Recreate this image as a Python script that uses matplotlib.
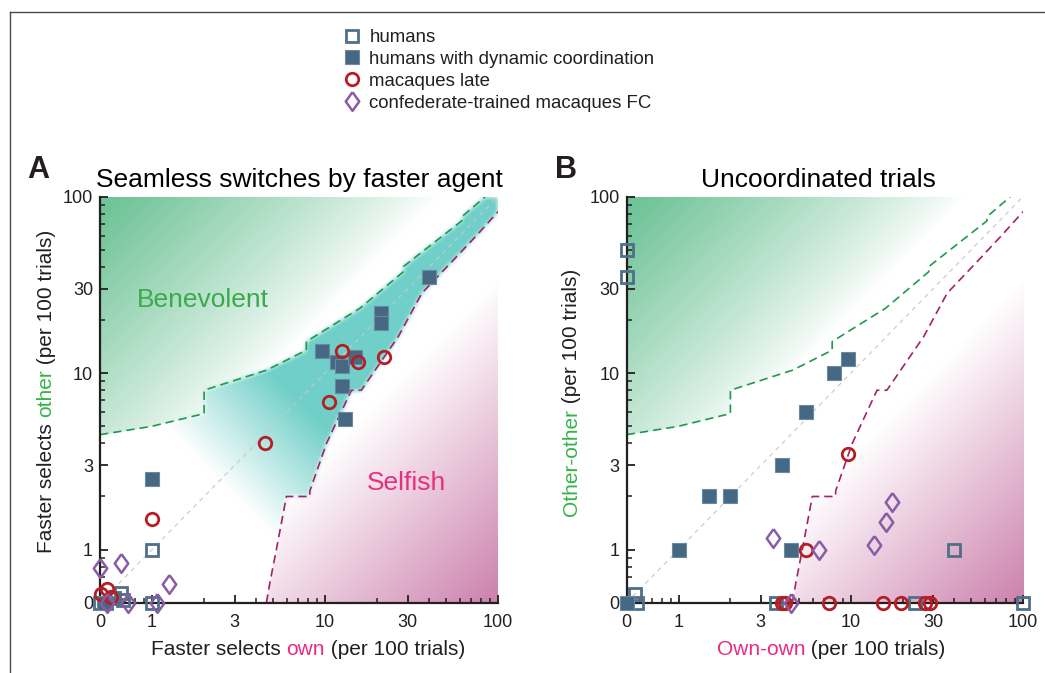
import numpy as np
import matplotlib
matplotlib.use("Agg")
import matplotlib.pyplot as plt
from matplotlib.lines import Line2D

plt.rcParams["font.family"] = ["Liberation Sans", "DejaVu Sans"]

# ---- data (per 100 trials; 0 is drawn at the "0" position of the log axis) ----
a_humans_x = [0, 1, 1, 0.54, 0.6, 0.66, 0.675]
a_humans_y = [0, 1, 0, 0, 0.53, 0.57, 0.52]
a_dyn_x = [40, 21, 21, 9.6, 11.7, 12.6, 15, 12.6, 13, 1, 0.53]
a_dyn_y = [35, 22, 19.2, 13.3, 11.6, 11, 12.4, 8.5, 5.5, 2.5, 0]
a_mac_x = [12.6, 15.6, 22, 10.5, 4.5, 1, 0.51, 0.55, 0.58]
a_mac_y = [13.3, 11.5, 12.4, 6.9, 4.0, 1.5, 0.56, 0.6, 0.54]
a_fc_x = [0, 0.66, 1.25, 1.07, 0.73, 0.55]
a_fc_y = [0.79, 0.84, 0.64, 0, 0, 0]

b_humans_x = [0, 0, 40, 100, 23.5, 3.7, 0.56, 0.57]
b_humans_y = [50, 35, 1, 0, 0, 0, 0.56, 0]
b_dyn_x = [9.6, 8, 5.5, 4, 2, 1.5, 1, 4.5, 0]
b_dyn_y = [12, 10, 6, 3, 2, 2, 1, 1, 0]
b_mac_x = [9.6, 5.5, 4, 4.15, 7.5, 15.4, 19.5, 26.9, 28.8]
b_mac_y = [3.5, 1, 0, 0, 0, 0, 0, 0, 0]
b_fc_x = [3.55, 6.5, 13.6, 16, 17.4, 4.5]
b_fc_y = [1.16, 1, 1.06, 1.43, 1.85, 0]

# significance thresholds (same for both panels)
green_x = [0.5, 1, 2, 2, 4.6, 7.8, 7.8, 15.9, 28.4, 28.4, 61.8, 61.8, 84.4]
green_y = [4.48, 5.0, 5.9, 8.0, 10.4, 13.5, 15.1, 23.3, 37.6, 40.2, 73, 77, 100]
magenta_x = [4.58, 4.8, 5.23, 5.98, 8.17, 8.17, 10.2, 14.2, 16.2, 26.5, 36.3, 55.3, 75.5, 100]
magenta_y = [0.5, 0.65, 1.0, 2.0, 2.0, 2.15, 4.0, 8.0, 8.0, 16.1, 28.4, 43.8, 60.6, 82.2]

tick_vals = [0.5, 1, 3, 10, 30, 100]
tick_labels = ["0", "1", "3", "10", "30", "100"]
minor_vals = [0.6, 0.7, 0.8, 0.9, 2, 4, 5, 6, 7, 8, 9, 20, 40, 50, 60, 70, 80, 90]

LO, HI = 0.5, 100
W, H = 1045, 673
INK = "#231F20"
GREEN_BG = np.array([112, 196, 152]) / 255
PINK_BG = np.array([204, 128, 172]) / 255
TEAL_BG = np.array([112, 207, 200]) / 255

DIAMOND = [(0, 1), (0.72, 0), (0, -1), (-0.72, 0), (0, 1)]
HUMAN = dict(marker="s", ms=8, mfc="none", mec="#4F6F88", mew=2, ls="none")
DYN = dict(marker="s", ms=9.5, mfc="#466883", mec="#6A8AA2", mew=0.8, ls="none")
MAC = dict(marker="o", ms=9, mfc="none", mec="#B51F24", mew=2, ls="none")
FC = dict(marker=DIAMOND, ms=13.5, mfc="none", mec="#8A5BA6", mew=1.8, ls="none")


def blur(a, r):
    k = np.ones(2 * r + 1) / (2 * r + 1)
    a = np.apply_along_axis(lambda m: np.convolve(m, k, mode="same"), 0, a)
    a = np.apply_along_axis(lambda m: np.convolve(m, k, mode="same"), 1, a)
    return a


def background(ax, teal=False):
    # grid is uniform in axes fraction (i.e. in log space)
    n = 400
    u = (np.arange(n) + 0.5) / n
    uu, vv = np.meshgrid(u, u)
    xx = LO * (HI / LO) ** uu
    yy = LO * (HI / LO) ** vv
    g_line = 10 ** np.interp(np.log10(xx), np.log10(green_x), np.log10(green_y))
    m_line = 10 ** np.interp(np.log10(xx), np.log10(magenta_x), np.log10(magenta_y))
    a_green = np.clip((vv - uu - 0.15) / 0.8, 0, 1) ** 0.85 * (yy > g_line)
    a_pink = np.clip((uu - vv - 0.2) / 0.8, 0, 1) * (yy < m_line)
    rgb = np.ones((n, n, 3))
    for a, c in ((a_green, GREEN_BG), (a_pink, PINK_BG)):
        rgb = rgb * (1 - a[..., None]) + c * a[..., None]
    if teal:
        band = blur(((yy < g_line) & (yy > m_line)).astype(float), 3)
        a_teal = band * np.clip(((uu + vv) / 2 - 0.3) / 0.2, 0, 1)
        rgb = rgb * (1 - a_teal[..., None]) + TEAL_BG * a_teal[..., None]
    ax.imshow(rgb, extent=(0, 1, 0, 1), transform=ax.transAxes, origin="lower",
              aspect="auto", interpolation="bilinear", zorder=0)


def setup_axes(ax):
    ax.set_xscale("log")
    ax.set_yscale("log")
    ax.set_xlim(LO, HI)
    ax.set_ylim(LO, HI)
    for axis in (ax.xaxis, ax.yaxis):
        axis.set_ticks(tick_vals, labels=tick_labels)
        axis.set_ticks(minor_vals, minor=True)
        axis.set_minor_formatter(plt.NullFormatter())
    ax.tick_params(which="major", direction="in", length=6, width=1.3,
                   pad=5, labelsize=13, colors=INK)
    ax.tick_params(axis="x", which="major", pad=8)
    ax.tick_params(which="minor", direction="in", length=3.5, width=1.1, colors=INK)
    ax.spines[["top", "right"]].set_visible(False)
    for s in ("left", "bottom"):
        ax.spines[s].set_linewidth(1.6)
        ax.spines[s].set_color(INK)
    ax.plot([LO, HI], [LO, HI], color="#c8c8c8", lw=0.8, dashes=(4, 4), zorder=1)
    ax.plot(green_x, green_y, color="#1E9A4C", lw=1.2, dashes=(5, 3), zorder=2)
    ax.plot(magenta_x, magenta_y, color="#A3216B", lw=1.2, dashes=(5, 3), zorder=2)


def scatter(ax, x, y, style):
    ax.plot(np.maximum(x, LO), np.maximum(y, LO), clip_on=False, zorder=4, **style)


def color_label(fig, parts, x_px, y_px, vertical, size):
    r = fig.canvas.get_renderer()

    def width(s):
        t = fig.text(0, 0, s + "x", fontsize=size)
        w1 = t.get_window_extent(r).width
        t.remove()
        t = fig.text(0, 0, "x", fontsize=size)
        w2 = t.get_window_extent(r).width
        t.remove()
        return w1 - w2

    widths = [width(s) for s, _ in parts]
    pos = (y_px if vertical else x_px) - sum(widths) / 2
    for (s, c), w in zip(parts, widths):
        if vertical:
            fig.text(x_px / W, pos / H, s, color=c, fontsize=size, rotation=90,
                     rotation_mode="anchor", ha="left", va="baseline")
        else:
            fig.text(pos / W, y_px / H, s, color=c, fontsize=size,
                     ha="left", va="baseline")
        pos += w


fig = plt.figure(figsize=(W / 100, H / 100), dpi=100)
ax_a = fig.add_axes([100 / W, 70.3 / H, 398 / W, 406 / H])
ax_b = fig.add_axes([626.7 / W, 70.3 / H, 396.3 / W, 406 / H])

background(ax_a, teal=True)
background(ax_b)
setup_axes(ax_a)
setup_axes(ax_b)

scatter(ax_a, a_humans_x, a_humans_y, HUMAN)
scatter(ax_a, a_dyn_x, a_dyn_y, DYN)
scatter(ax_a, a_mac_x, a_mac_y, MAC)
scatter(ax_a, a_fc_x, a_fc_y, FC)
scatter(ax_b, b_humans_x, b_humans_y, HUMAN)
scatter(ax_b, b_dyn_x, b_dyn_y, DYN)
scatter(ax_b, b_mac_x, b_mac_y, MAC)
scatter(ax_b, b_fc_x, b_fc_y, FC)

ax_a.set_title("Seamless switches by faster agent", fontsize=19, pad=7, color="black")
ax_b.set_title("Uncoordinated trials", fontsize=19, pad=7, x=0.483, color="black")
ax_a.text(0.258, 0.746, "Benevolent", transform=ax_a.transAxes, fontsize=19,
          color="#3AAA4A", ha="center", va="center", zorder=5)
ax_a.text(0.771, 0.294, "Selfish", transform=ax_a.transAxes, fontsize=19,
          color="#E8307F", ha="center", va="center", zorder=5)

fig.text(27 / W, 1 - 178 / H, "A", fontsize=22, fontweight="bold", color=INK)
fig.text(555 / W, 1 - 178 / H, "B", fontsize=22, fontweight="bold", color=INK)

GREEN_TXT = "#37B34A"
PINK_TXT = "#EC2A7F"
color_label(fig, [("Faster selects ", INK), ("own", PINK_TXT), (" (per 100 trials)", INK)],
            308, H - 655, False, 15)
color_label(fig, [("Faster selects ", INK), ("other", GREEN_TXT), (" (per 100 trials)", INK)],
            51.5, H - 391, True, 15)
color_label(fig, [("Own-own", PINK_TXT), (" (per 100 trials)", INK)],
            831, H - 655, False, 15)
color_label(fig, [("Other-other", GREEN_TXT), (" (per 100 trials)", INK)],
            577, H - 392, True, 15)

handles = [Line2D([], [], **HUMAN), Line2D([], [], **DYN),
           Line2D([], [], **MAC), Line2D([], [], **FC)]
labels = ["humans", "humans with dynamic coordination", "macaques late",
          "confederate-trained macaques FC"]
fig.legend(handles, labels, loc="upper left", bbox_to_anchor=(343 / W, 1 - 29 / H),
           frameon=False, fontsize=13.4, handlelength=1, handletextpad=0.42,
           labelspacing=0.26, borderpad=0, borderaxespad=0, labelcolor=INK)

# frame lines of the figure panel
fig.add_artist(Line2D([9.5 / W, 1], [1 - 12 / H, 1 - 12 / H], color="#4a4a4a", lw=1))
fig.add_artist(Line2D([9.5 / W, 9.5 / W], [0, 1 - 12 / H], color="#4a4a4a", lw=1))

fig.savefig("out.png", dpi=100)
